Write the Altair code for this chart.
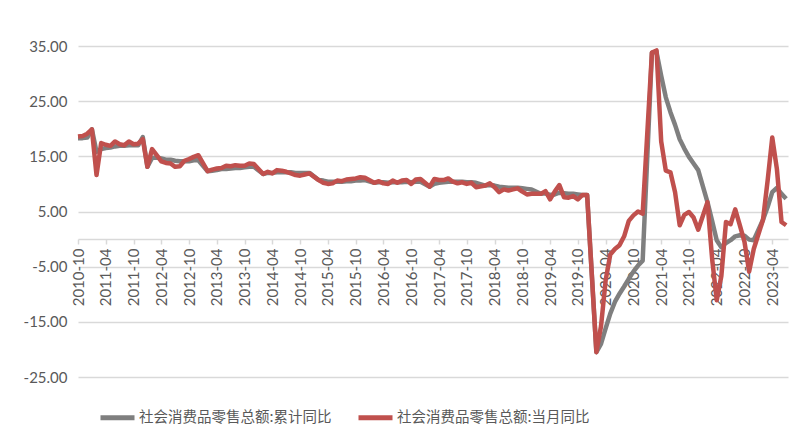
import json
import altair as alt
import pandas as pd

S1 = "社会消费品零售总额:累计同比"
S2 = "社会消费品零售总额:当月同比"

# month categories 2010-10 .. 2023-07
months = []
yy, mm = 2010, 10
while (yy, mm) <= (2023, 7):
    months.append(f"{yy}-{mm:02d}")
    mm += 1
    if mm > 12:
        mm = 1
        yy += 1

tick_labels = ["2010-10", "2011-04", "2011-10", "2012-04", "2012-10", "2013-04",
               "2013-10", "2014-04", "2014-10", "2015-04", "2015-10", "2016-04",
               "2016-10", "2017-04", "2017-10", "2018-04", "2018-10", "2019-04",
               "2019-10", "2020-04", "2020-10", "2021-04", "2021-10", "2022-04",
               "2022-10", "2023-04"]

# 累计同比 (cumulative YoY), None = no January value
cum_2010 = [18.3, 18.3, 18.4]
cum_2011 = [19.9, 15.8, 16.3, 16.5, 16.6, 16.8, 16.9, 16.9, 17.0, 17.0, 17.0, 18.5]
cum_2012 = [13.1, 14.7, 14.8, 14.6, 14.4, 14.4, 14.2, 14.1, 14.1, 14.1, 14.3, 14.3]
cum_2013 = [None, 12.3, 12.4, 12.5, 12.7, 12.7, 12.8, 12.9, 12.9, 13.0, 13.1, 13.1]
cum_2014 = [None, 11.8, 12.0, 12.0, 12.1, 12.1, 12.1, 12.1, 12.0, 12.0, 12.0, 12.0]
cum_2015 = [None, 10.7, 10.6, 10.4, 10.4, 10.4, 10.4, 10.5, 10.5, 10.6, 10.6, 10.7]
cum_2016 = [None, 10.2, 10.3, 10.3, 10.2, 10.3, 10.3, 10.3, 10.4, 10.3, 10.4, 10.4]
cum_2017 = [None, 9.5, 10.0, 10.2, 10.3, 10.4, 10.4, 10.4, 10.4, 10.3, 10.3, 10.2]
cum_2018 = [None, 9.7, 9.8, 9.7, 9.5, 9.4, 9.3, 9.3, 9.3, 9.2, 9.1, 9.0]
cum_2019 = [None, 8.2, 8.3, 8.0, 8.1, 8.4, 8.3, 8.2, 8.2, 8.1, 8.0, 8.0]
cum_2020 = [None, -20.5, -19.0, -16.2, -13.5, -11.4, -9.9, -8.6, -7.2, -5.9, -4.8, -3.9]
cum_2021 = [None, 33.8, 33.9, 29.6, 25.7, 23.0, 20.7, 18.1, 16.4, 14.9, 13.7, 12.5]
cum_2022 = [None, 6.7, 3.3, -0.2, -1.5, -0.7, -0.2, 0.5, 0.7, 0.6, -0.1, -0.2]
cum_2023 = [None, 3.5, 5.8, 8.5, 9.3, 8.2, 7.3]

# 当月同比 (monthly YoY)
mon_2010 = [18.6, 18.7, 19.1]
mon_2011 = [19.9, 11.6, 17.4, 17.1, 16.9, 17.7, 17.2, 17.0, 17.7, 17.2, 17.3, 18.1]
mon_2012 = [13.1, 16.3, 15.2, 14.1, 13.8, 13.7, 13.1, 13.2, 14.2, 14.5, 14.9, 15.2]
mon_2013 = [None, 12.3, 12.6, 12.8, 12.9, 13.3, 13.2, 13.4, 13.3, 13.3, 13.7, 13.6]
mon_2014 = [None, 11.8, 12.2, 11.9, 12.5, 12.4, 12.2, 11.9, 11.6, 11.5, 11.7, 11.9]
mon_2015 = [None, 10.7, 10.2, 10.0, 10.1, 10.6, 10.5, 10.8, 10.9, 11.0, 11.2, 11.1]
mon_2016 = [None, 10.2, 10.5, 10.1, 10.0, 10.6, 10.2, 10.6, 10.7, 10.0, 10.8, 10.9]
mon_2017 = [None, 9.5, 10.9, 10.7, 10.7, 11.0, 10.4, 10.1, 10.3, 10.0, 10.2, 9.4]
mon_2018 = [None, 9.7, 10.1, 9.4, 8.5, 9.0, 8.8, 9.0, 9.2, 8.6, 8.1, 8.2]
mon_2019 = [None, 8.2, 8.7, 7.2, 8.6, 9.8, 7.6, 7.5, 7.8, 7.2, 8.0, 8.0]
mon_2020 = [None, -20.5, -15.8, -7.5, -2.8, -1.8, -1.1, 0.5, 3.3, 4.3, 5.0, 4.6]
mon_2021 = [None, 33.8, 34.2, 17.7, 12.4, 12.1, 8.5, 2.5, 4.4, 4.9, 3.9, 1.7]
mon_2022 = [None, 6.7, -3.5, -11.1, -6.7, 3.1, 2.7, 5.4, 2.5, -0.5, -5.9, -1.8]
mon_2023 = [None, 3.5, 10.6, 18.4, 12.7, 3.1, 2.5]

cum = (cum_2010 + cum_2011 + cum_2012 + cum_2013 + cum_2014 + cum_2015 + cum_2016 +
       cum_2017 + cum_2018 + cum_2019 + cum_2020 + cum_2021 + cum_2022 + cum_2023)
mon = (mon_2010 + mon_2011 + mon_2012 + mon_2013 + mon_2014 + mon_2015 + mon_2016 +
       mon_2017 + mon_2018 + mon_2019 + mon_2020 + mon_2021 + mon_2022 + mon_2023)

rows = []
for i, mth in enumerate(months):
    if cum[i] is not None:
        rows.append({"m": i, "month": mth, "series": S1, "v": cum[i]})
for i, mth in enumerate(months):
    if mon[i] is not None:
        rows.append({"m": i, "month": mth, "series": S2, "v": mon[i]})
df = pd.DataFrame(rows)

GRAY_TXT = "#595959"
GRID = "#d9d9d9"

label_expr = json.dumps(tick_labels) + "[round(datum.value / 6)]"

x = alt.X("m:Q",
          scale=alt.Scale(domain=[0, 153.4], nice=False, zero=False),
          axis=alt.Axis(values=list(range(0, 151, 6)), labelExpr=label_expr,
                        labelAngle=-90, offset=-138, grid=False,
                        domainColor=GRID, domainWidth=1.5,
                        tickColor=GRID, tickSize=5, tickWidth=1.5,
                        labelFont="Lato", labelFontSize=15, labelColor=GRAY_TXT,
                        labelPadding=4, title=None))
y = alt.Y("v:Q",
          scale=alt.Scale(domain=[-25, 35], nice=False, zero=False),
          axis=alt.Axis(values=[-25, -15, -5, 5, 15, 25, 35],
                        labelExpr="replace(format(datum.value, '.2f'), '\u2212', '-')",
                        grid=True, gridColor=GRID, gridWidth=1.5,
                        domain=False, ticks=False, labelPadding=11,
                        labelFont="Lato", labelFontSize=15, labelColor=GRAY_TXT,
                        title=None))
color = alt.Color("series:N",
                  scale=alt.Scale(domain=[S1, S2], range=["#7f7f7f", "#c0504d"]),
                  legend=alt.Legend(title=None, orient="none", legendX=20, legendY=352,
                                    direction="horizontal", symbolType="stroke",
                                    symbolSize=1156, symbolStrokeWidth=5,
                                    labelFont="Noto Sans CJK SC", labelFontSize=14.5,
                                    labelColor=GRAY_TXT, labelOffset=2, labelLimit=400,
                                    columnPadding=16, padding=0))

base = alt.Chart(df)
gray = base.transform_filter(alt.datum.series == S1).mark_line(
    strokeWidth=4.5, strokeJoin="round").encode(x=x, y=y, color=color)
red = base.transform_filter(alt.datum.series == S2).mark_line(
    strokeWidth=4.5, strokeJoin="round").encode(x=x, y=y, color=color)

chart = alt.layer(gray, red).properties(
    width=710, height=331,
    autosize=alt.AutoSizeParams(type="none"),
    padding={"left": 70, "top": 38, "right": 8, "bottom": 48},
).configure_view(stroke=None)

chart.save("out.html", embed_options={"renderer": "svg", "actions": False})
